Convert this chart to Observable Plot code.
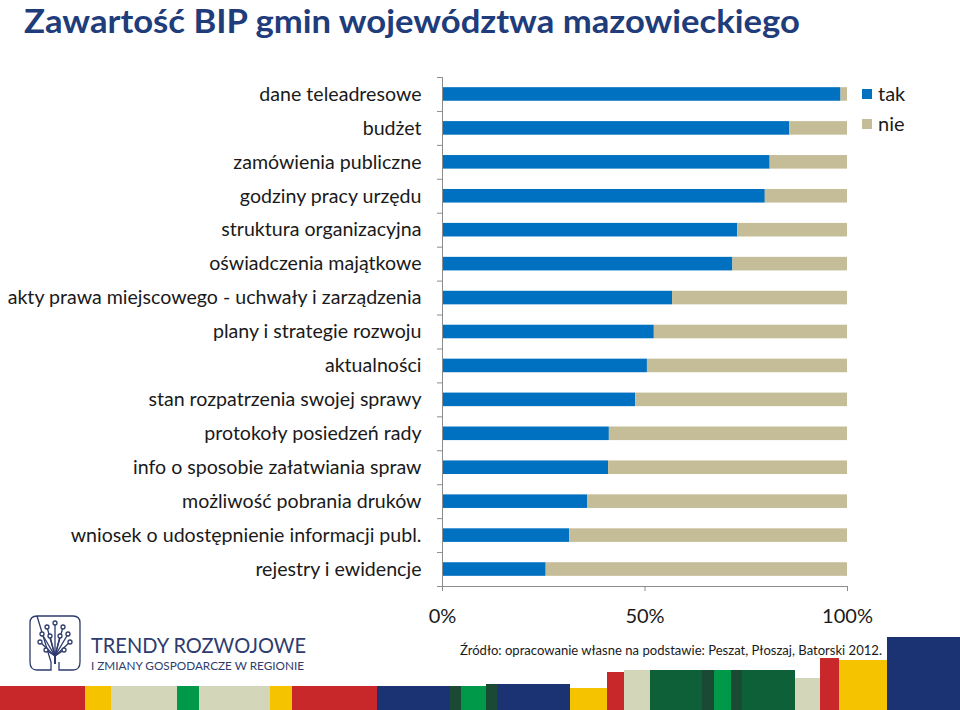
<!DOCTYPE html>
<html>
<head>
<meta charset="utf-8">
<script src="https://cdn.jsdelivr.net/npm/d3@7"></script>
<script src="https://cdn.jsdelivr.net/npm/@observablehq/plot@0.6"></script>
<style>
  html, body { margin: 0; padding: 0; background: #fff; }
  #page { position: relative; width: 960px; height: 710px; overflow: hidden; font-family: Lato, sans-serif; }
  #plot { position: absolute; left: 0; top: 0; }
  #overlay { position: absolute; left: 0; top: 0; }
</style>
</head>
<body>
<div id="page">
  <div id="plot"></div>
  <svg id="overlay" width="960" height="710"></svg>
</div>
<script>
// ---- data ----
const title = "Zawartość BIP gmin województwa mazowieckiego";
const source = "Źródło: opracowanie własne na podstawie: Peszat, Płoszaj, Batorski 2012.";
const categories = [
  "dane teleadresowe",
  "budżet",
  "zamówienia publiczne",
  "godziny pracy urzędu",
  "struktura organizacyjna",
  "oświadczenia majątkowe",
  "akty prawa miejscowego - uchwały i zarządzenia",
  "plany i strategie rozwoju",
  "aktualności",
  "stan rozpatrzenia swojej sprawy",
  "protokoły posiedzeń rady",
  "info o sposobie załatwiania spraw",
  "możliwość pobrania druków",
  "wniosek o udostępnienie informacji publ.",
  "rejestry i ewidencje"
];
const series = ["tak", "nie"];
const seriesColors = ["#0070C0", "#C4BD97"];
const takValues = [98.4, 85.7, 80.9, 79.7, 72.9, 71.7, 56.8, 52.3, 50.6, 47.7, 41.2, 41.0, 35.8, 31.4, 25.6];
const nieValues = [1.6, 14.3, 19.1, 20.3, 27.1, 28.3, 43.2, 47.7, 49.4, 52.3, 58.8, 59.0, 64.2, 68.6, 74.4];
const xTicks = [0, 50, 100];
const logoLine1 = "TRENDY ROZWOJOWE";
const logoLine2 = "I ZMIANY GOSPODARCZE W REGIONIE";

// ---- chart ----
const data = categories.flatMap((c, i) => [
  {category: c, series: "tak", value: takValues[i]},
  {category: c, series: "nie", value: nieValues[i]}
]);

const W = 960, H = 640, mt = 77, mb = 54, ml = 442, mr = 113;
const step = (H - mt - mb) / categories.length;
const axisGray = "#8C8C8C";

const chart = Plot.plot({
  width: W, height: H,
  marginTop: mt, marginBottom: mb, marginLeft: ml, marginRight: mr,
  style: {fontFamily: "Lato, sans-serif", fontSize: "19.6px", color: "#1a1a1a", background: "transparent", overflow: "visible"},
  x: {domain: [0, 100], axis: null},
  y: {domain: categories, paddingInner: 0.6, paddingOuter: 0.3, round: false, axis: null},
  color: {domain: series, range: seriesColors},
  marks: [
    Plot.barX(data, Plot.stackX({x: "value", y: "category", fill: "series", order: series})),
    Plot.ruleX([0], {stroke: axisGray}),
    Plot.frame({anchor: "bottom", stroke: axisGray}),
    Plot.axisY({tickSize: 0, tickPadding: 21, label: null, fill: "#1a1a1a"}),
    Plot.axisY({tickSize: 5, fill: "none", label: null, stroke: axisGray, dy: -step / 2}),
    Plot.axisY([categories[categories.length - 1]], {tickSize: 5, fill: "none", label: null, stroke: axisGray, dy: step / 2}),
    Plot.axisX(xTicks, {tickSize: 5, tickPadding: 17, stroke: axisGray, fill: "#1a1a1a", label: null, tickFormat: d => d + "%", fontSize: 20})
  ]
});
document.getElementById("plot").appendChild(chart);

// ---- overlay: title, legend, source, logo, stripes ----
const ov = d3.select("#overlay");
ov.append("text").attr("x", 24).attr("y", 33)
  .attr("font-family", "Lato, sans-serif").attr("font-weight", 700).attr("font-size", 33)
  .attr("fill", "#1F3C7B").attr("textLength", 776).attr("lengthAdjust", "spacingAndGlyphs")
  .text(title);

const lg = ov.append("g");
series.forEach((s, i) => {
  lg.append("rect").attr("x", 862).attr("y", 89 + i * 30).attr("width", 10).attr("height", 10).attr("fill", seriesColors[i]);
  lg.append("text").attr("x", 878).attr("y", 101 + i * 30).attr("font-family", "Lato, sans-serif")
    .attr("font-size", 20).attr("fill", "#1a1a1a").text(s);
});

ov.append("text").attr("x", 460).attr("y", 655)
  .attr("font-family", "Lato, sans-serif").attr("font-size", 13.5).attr("fill", "#1a1a1a")
  .attr("textLength", 422).attr("lengthAdjust", "spacingAndGlyphs").text(source);

// logo (decoration)
const navy = "#2E3B6E";
const logo = ov.append("g").attr("fill", "none").attr("stroke", navy).attr("stroke-width", 1.3);
logo.append("path").attr("d", "M37,616 H73 Q80,616 80,623 V662 Q80,670 73,670 H59 V662 M51,662 V670 H37 Q30,670 30,662 V623 Q30,616 37,616 Z");
const twigs = [[42,634],[47,627],[55,623],[63,627],[68,634],[40,642],[70,642],[46,650],[64,650],[50,636],[60,636]];
twigs.forEach(([tx, ty]) => {
  logo.append("path").attr("d", `M55,664 L55,656 L${tx},${ty}`);
});
twigs.forEach(([tx, ty]) => {
  logo.append("circle").attr("cx", tx).attr("cy", ty).attr("r", 2).attr("fill", "#fff");
});
ov.append("text").attr("x", 91).attr("y", 652.5).attr("font-family", "Lato, sans-serif").attr("font-weight", 400)
  .attr("font-size", 21).attr("fill", navy).attr("textLength", 215).attr("lengthAdjust", "spacingAndGlyphs").text(logoLine1);
ov.append("text").attr("x", 91).attr("y", 669.5).attr("font-family", "Lato, sans-serif").attr("font-weight", 400)
  .attr("font-size", 11.5).attr("fill", navy).attr("textLength", 213).attr("lengthAdjust", "spacingAndGlyphs").text(logoLine2);

// bottom colour stripe (decoration)
const stripeDecor = [
  [0, 85, 686, "#C8282A"], [85, 111, 686, "#F6C300"], [111, 177, 686, "#D4D6B9"], [177, 199, 686, "#00994A"],
  [199, 270, 686, "#D4D6B9"], [270, 292, 686, "#F6C300"], [292, 377, 686, "#C8282A"], [377, 450, 686, "#1B3372"],
  [450, 461, 686, "#1A4A33"], [461, 486, 686, "#00994A"], [486, 497, 684, "#1A4A33"], [497, 570, 684, "#1B3372"],
  [570, 607, 688, "#F6C300"], [607, 624, 672, "#C8282A"], [624, 650, 670, "#D4D6B9"], [650, 702, 670, "#0E6039"],
  [702, 714, 670, "#1A4A33"], [714, 731, 670, "#00994A"], [731, 742, 670, "#1A4A33"], [742, 795, 670, "#0E6039"],
  [795, 820, 678, "#D4D6B9"], [820, 839, 658, "#C8282A"], [839, 887, 660, "#F6C300"], [887, 960, 637, "#1B3372"]
];
stripeDecor.forEach(([a, b, t, c]) => {
  ov.append("rect").attr("x", a).attr("y", t).attr("width", b - a).attr("height", 710 - t).attr("fill", c);
});
</script>
</body>
</html>
